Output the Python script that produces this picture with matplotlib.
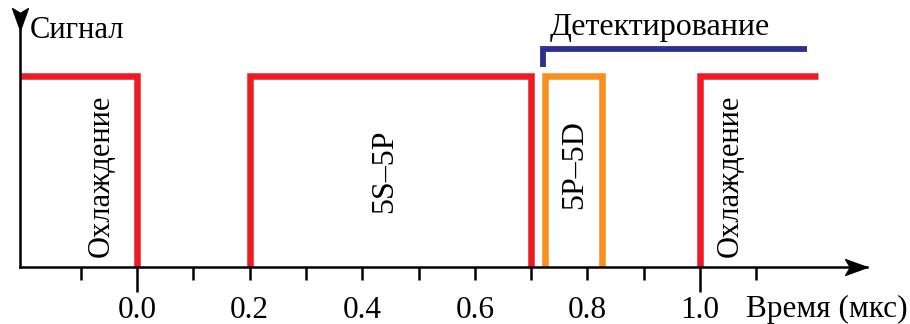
import numpy as np
import matplotlib
matplotlib.use("Agg")
import matplotlib.pyplot as plt
from matplotlib.ticker import FixedLocator, FixedFormatter

plt.rcParams["font.family"] = ["Liberation Serif", "DejaVu Serif"]

# --- data (time in microseconds, signal level in arbitrary units) ---
red_t = [[-0.21, 0.0, 0.0], [0.2, 0.2, 0.7, 0.7], [1.0, 1.0, 1.21]]
red_v = [[1, 1, 0], [0, 1, 1, 0], [0, 1, 1]]
orange_t = [0.725, 0.725, 0.826, 0.826]
orange_v = [0, 1, 1, 0]
blue_t = [0.722, 0.722, 1.19]
blue_v = [1.047, 1.14, 1.14]

major_ticks = [0.0, 1.0]
major_labels = ["0.0", "1.0"]
minor_ticks = [-0.1, 0.1, 0.2, 0.3, 0.4, 0.5, 0.6, 0.7, 0.8, 0.9, 1.1]
minor_labels = ["", "", "0.2", "", "0.4", "", "0.6", "", "0.8", "", ""]

segment_labels = ["Охлаждение", "5S–5P", "5P–5D", "Охлаждение"]
segment_x = [-0.064, 0.439, 0.778, 1.053]
segment_y = [0.478, 0.5, 0.535, 0.478]
segment_fs = [22, 23, 23, 22]

RED = "#ed1c24"
ORANGE = "#f7901e"
BLUE = "#2e3192"

fig = plt.figure(figsize=(9.1, 3.24), dpi=100)
W, H = 910, 324
ax = fig.add_axes([20 / W, (H - 267) / H, (867 - 20) / W, (267 - 30) / H])
ax.set_xlim(-0.2078, 1.2966)
ax.set_ylim(0, 1.241)

for t, v in zip(red_t, red_v):
    ax.plot(t, v, color=RED, lw=4.7, solid_joinstyle="miter",
            solid_capstyle="butt", zorder=3)
ax.plot(orange_t, orange_v, color=ORANGE, lw=4.7, solid_joinstyle="miter",
        solid_capstyle="butt", zorder=3)
ax.plot(blue_t, blue_v, color=BLUE, lw=4.2, solid_joinstyle="miter",
        solid_capstyle="butt", zorder=3)

for s, x, y, fs in zip(segment_labels, segment_x, segment_y, segment_fs):
    ax.text(x, y, s, rotation=90, ha="center", va="center", fontsize=fs)

# axes with arrows
for side in ["top", "right"]:
    ax.spines[side].set_visible(False)
for side in ["left", "bottom"]:
    ax.spines[side].set_linewidth(1.8)
    ax.spines[side].set_zorder(4)

head = [(0, 0), (-1, 0.36), (-0.78, 0), (-1, -0.36), (0, 0)]
head_up = [(y, -x) for x, y in head]
ax.plot([1], [0], marker=head, markersize=31.5, color="k",
        transform=ax.transAxes, clip_on=False, zorder=5)
ax.plot([0], [1], marker=head_up, markersize=31.5, color="k",
        transform=ax.transAxes, clip_on=False, zorder=5)

ax.yaxis.set_ticks([])
ax.xaxis.set_major_locator(FixedLocator(major_ticks))
ax.xaxis.set_major_formatter(FixedFormatter(major_labels))
ax.xaxis.set_minor_locator(FixedLocator(minor_ticks))
ax.xaxis.set_minor_formatter(FixedFormatter(minor_labels))
ax.tick_params(axis="x", which="major", direction="out", length=18,
               width=1.8, pad=3, labelsize=22.5)
ax.tick_params(axis="x", which="minor", direction="out", length=9.5,
               width=1.8, pad=11.5, labelsize=22.5)

ax.text(-0.19, 1.198, "Сигнал", ha="left", va="baseline", fontsize=22,
        clip_on=False)
ax.text(0.929, 1.215, "Детектирование", ha="center", va="baseline",
        fontsize=23, clip_on=False)
ax.text(1.082, -0.262, "Время (мкс)", ha="left", va="baseline",
        fontsize=22.5, clip_on=False)

fig.savefig("out.png", dpi=100)
